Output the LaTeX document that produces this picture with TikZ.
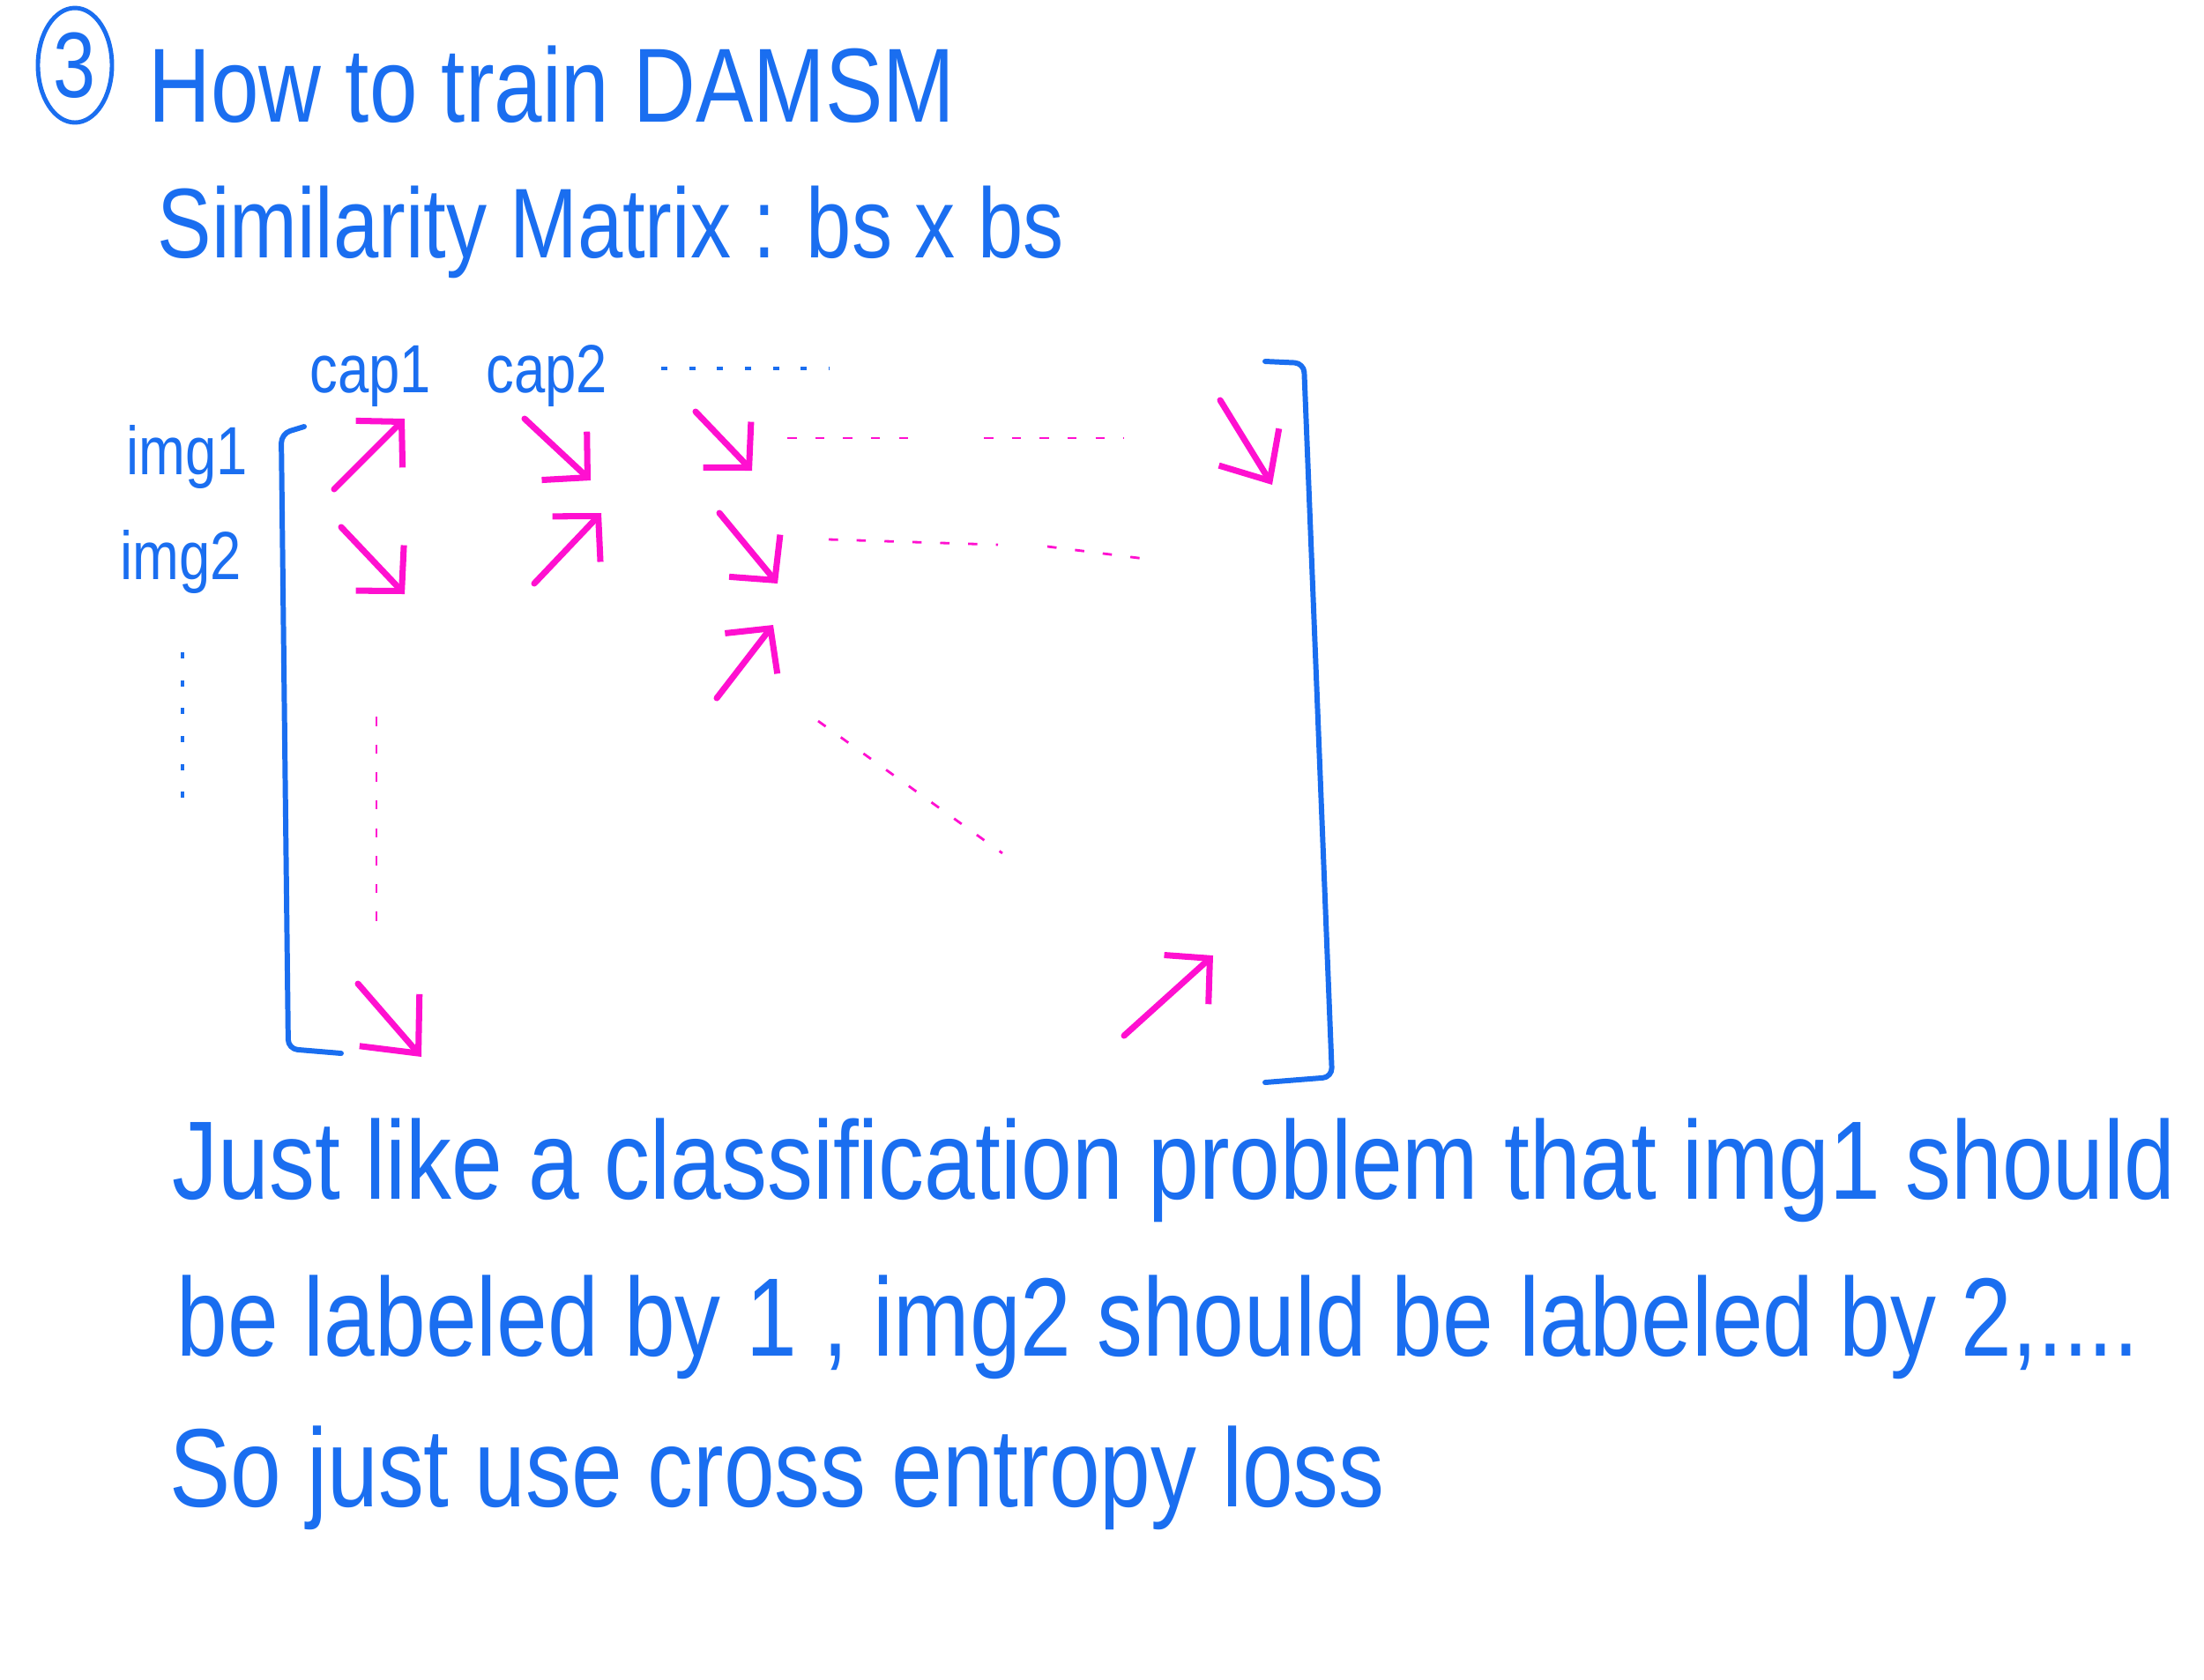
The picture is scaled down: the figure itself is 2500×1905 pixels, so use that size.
\documentclass[tikz,border=0pt]{standalone}
\usepackage{fontspec}
\setmainfont[FakeStretch=0.82]{Liberation Sans}
\usepackage{tikz}
\usepackage{xcolor}
\usetikzlibrary{arrows.meta,shapes.geometric}
\definecolor{penblue}{HTML}{1A6EF0}
\definecolor{penpink}{HTML}{FF10D0}
\tikzset{
  bigtext/.style={text=penblue,anchor=base west,inner sep=0pt,
                  font=\fontsize{36}{40}\selectfont},
  smalltext/.style={text=penblue,anchor=base west,inner sep=0pt,
                    font=\fontsize{22}{24}\selectfont},
  bracketline/.style={draw=penblue,line width=1.7pt,line cap=round,
                      line join=round,rounded corners=3pt},
  pinkarr/.style={-{Straight Barb[length=3.6mm,width=7.5mm]},draw=penpink,
                  line width=2pt,line cap=round},
  pinkdots/.style={draw=penpink,line width=0.8pt,dash pattern=on 3pt off 6pt},
  bluedots/.style={draw=penblue,line width=1pt,dash pattern=on 2pt off 7pt}
}

\begin{document}
\begin{tikzpicture}[x=0.1mm,y=-0.1mm]
  \useasboundingbox (0,0) rectangle (2500,1905);

  % heading
  \node[draw=penblue,line width=1.4pt,ellipse,minimum width=8.4mm,
        minimum height=13mm,inner sep=0pt,text=penblue,
        font=\fontsize{30}{32}\selectfont] (num) at (85,74) {3};
  \node[bigtext,font=\fontsize{34}{38}\selectfont] (title) at (168,138) {How to train DAMSM};
  \node[bigtext,font=\fontsize{32}{36}\selectfont] (simmat) at (178,292) {Similarity Matrix : bs x bs};

  % row and column labels
  \node[smalltext] (cap1) at (351,445) {cap1};
  \node[smalltext] (cap2) at (551,445) {cap2};
  \node[smalltext] (img1) at (143,538) {img1};
  \node[smalltext] (img2) at (136,657) {img2};
  \coordinate (hdots0) at (750,418);
  \coordinate (hdots1) at (940,418);
  \draw[bluedots] (hdots0) -- (hdots1);
  \coordinate (vdots0) at (207,740);
  \coordinate (vdots1) at (207,925);
  \draw[bluedots] (vdots0) -- (vdots1);

  % the brackets of the matrix
  \draw[bracketline] (345,484) -- (319,492) -- (327,1190) -- (387,1195);
  \draw[bracketline] (1435,410) -- (1479,412) -- (1511,1222) -- (1435,1228);

  % arrows in the cells
  \foreach \n/\sx/\sy/\ex/\ey in {a/379/555/459/475, b/595/475/670/545,
      c/789/467/853/534, e/387/598/459/674, f/606/662/682/582,
      g/816/582/882/662, h/813/792/877/709, k/1275/1175/1376/1084} {
    \coordinate (t\n) at (\sx,\sy);
    \coordinate (h\n) at (\ex,\ey);
    \draw[pinkarr] (t\n) -- (h\n);
  }
  \coordinate (td) at (1384,454);
  \coordinate (hd) at (1443,550);
  \draw[pinkarr,-{Straight Barb[length=4.5mm,width=8mm]}] (td) -- (hd);
  \coordinate (tj) at (406,1116);
  \coordinate (hj) at (478,1199);
  \draw[pinkarr,-{Straight Barb[length=5mm,width=9mm]}] (tj) -- (hj);

  % dots that fill the matrix
  \foreach \n/\sx/\sy/\ex/\ey in {p/893/497/1044/497, q/1116/497/1275/497,
      r/940/612/1132/618, s/1188/620/1299/634, u/427/813/427/1060,
      v/928/818/1137/968} {
    \coordinate (d\n0) at (\sx,\sy);
    \coordinate (d\n1) at (\ex,\ey);
    \draw[pinkdots] (d\n0) -- (d\n1);
  }

  % notes below
  \node[bigtext] (line1) at (195,1360) {Just like a classification problem that img1 should};
  \node[bigtext] (line2) at (200,1538) {be labeled by 1 , img2 should be labeled by 2,....};
  \node[bigtext] (line3) at (192,1709) {So just use cross entropy loss};
\end{tikzpicture}
\end{document}
